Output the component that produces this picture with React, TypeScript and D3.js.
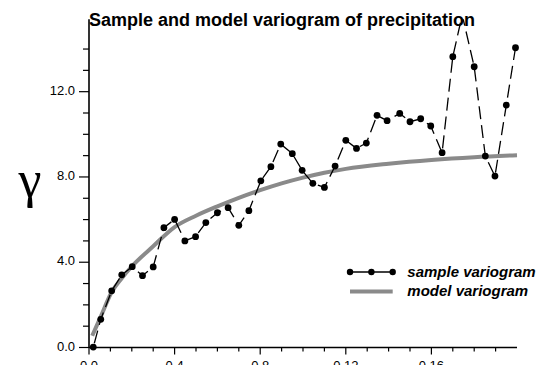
import React from "react";
import * as d3 from "d3";

// Experimental variogram: lag distance and semivariance
const lagX = [
  0.002, 0.0055, 0.0106, 0.0153, 0.0202, 0.025, 0.03, 0.035, 0.04, 0.0448,
  0.0498, 0.0546, 0.06, 0.065, 0.07, 0.0747, 0.0803, 0.085, 0.0896, 0.095,
  0.0996, 0.1046, 0.11, 0.115, 0.12, 0.125, 0.1296, 0.1346, 0.1393, 0.1452,
  0.15, 0.155, 0.1597, 0.165, 0.17, 0.1744, 0.18, 0.1852, 0.1897, 0.195,
  0.1993,
];
const gammaY = [
  0.02, 1.32, 2.66, 3.41, 3.79, 3.37, 3.78, 5.62, 6.01, 5.0, 5.2, 5.86, 6.32,
  6.56, 5.73, 6.42, 7.82, 8.48, 9.54, 9.09, 8.31, 7.7, 7.51, 8.51, 9.72, 9.34,
  9.59, 10.89, 10.64, 10.98, 10.59, 10.73, 10.39, 9.14, 13.64, 15.6, 13.17,
  8.98, 8.04, 11.37, 14.06,
];

// Fitted model variogram
const modelLag = [
  0.0015, 0.0055, 0.0106, 0.0153, 0.02, 0.03, 0.04, 0.05, 0.06, 0.07, 0.08,
  0.09, 0.1, 0.11, 0.12, 0.14, 0.16, 0.18, 0.2,
];
const modelGamma = [
  0.55, 1.45, 2.6, 3.25, 3.8, 4.75, 5.65, 6.18, 6.62, 7.02, 7.38, 7.7, 7.97,
  8.2, 8.38, 8.62, 8.8, 8.93, 9.02,
];

const xTickLabels = ["0.0", "0.4", "0.8", "0.12", "0.16"];
const xMajorValues = [0, 0.04, 0.08, 0.12, 0.16];
const yTickLabels = ["0.0", "4.0", "8.0", "12.0"];
const yMajorValues = [0, 4, 8, 12];

const W = 545;
const H = 365;
const FONT = "'Liberation Sans', Arial, Helvetica, sans-serif";

export default function App() {
  const x = d3.scaleLinear().domain([0, 0.2]).range([89, 517]);
  const y = d3.scaleLinear().domain([0, 15.4]).range([347.5, 19.2]);

  const xMinor = d3.range(0, 20).map((i) => i / 100);
  const yMinor = d3.range(0, 15);

  const sample = lagX.map((h, i) => [h, gammaY[i]] as [number, number]);
  const model = modelLag.map((h, i) => [h, modelGamma[i]] as [number, number]);

  const sampleLine = d3
    .line<[number, number]>()
    .x((d) => x(d[0]))
    .y((d) => y(d[1]));
  const modelLine = d3
    .line<[number, number]>()
    .x((d) => x(d[0]))
    .y((d) => y(d[1]))
    .curve(d3.curveMonotoneX);

  const x0 = x(0);
  const y0 = y(0);

  return (
    <svg
      width={W}
      height={H}
      style={{ position: "absolute", left: 0, top: 0, background: "#fff" }}
    >
      <defs>
        <clipPath id="plot-clip">
          <rect x={0} y={y(15.4)} width={W} height={H} />
        </clipPath>
      </defs>

      {/* title */}
      <text x={89} y={26} fontFamily={FONT} fontWeight="bold" fontSize={18} fill="#000">
        Sample and model variogram of precipitation
      </text>

      {/* y-axis symbol */}
      <text
        x={30}
        y={197}
        textAnchor="middle"
        fontFamily="'Liberation Serif', 'Times New Roman', serif"
        fontSize={52}
        fill="#000"
      >
        γ
      </text>

      {/* model curve */}
      <path
        d={modelLine(model) || ""}
        fill="none"
        stroke="#8a8a8a"
        strokeWidth={4}
        clipPath="url(#plot-clip)"
      />

      {/* sample variogram */}
      <g clipPath="url(#plot-clip)">
        <path
          d={sampleLine(sample) || ""}
          fill="none"
          stroke="#000"
          strokeWidth={1.3}
          strokeDasharray="13,6"
          strokeDashoffset={-4}
        />
        {sample.map((d, i) => (
          <circle key={i} cx={x(d[0])} cy={y(d[1])} r={3.4} fill="#000" />
        ))}
      </g>

      {/* axes */}
      <g stroke="#000" strokeWidth={1.6} fill="none">
        <line x1={x0} y1={y0} x2={x(0.2)} y2={y0} />
        <line x1={x0} y1={y0} x2={x0} y2={y(15.4)} />
      </g>
      <g stroke="#000" strokeWidth={1.2}>
        {xMinor.map((v) => {
          const major = xMajorValues.some((m) => Math.abs(m - v) < 1e-9);
          return (
            <line key={"xt" + v} x1={x(v)} x2={x(v)} y1={y0} y2={y0 + (major ? 7 : 4)} />
          );
        })}
        {yMinor.map((v) => {
          const major = yMajorValues.includes(v);
          return (
            <line key={"yt" + v} x1={x0 - (major ? 10 : 6)} x2={x0} y1={y(v)} y2={y(v)} />
          );
        })}
      </g>
      <g fontFamily={FONT} fontSize={13} fill="#000">
        {xMajorValues.map((v, i) => (
          <text key={"xl" + i} x={x(v)} y={370} textAnchor="middle">
            {xTickLabels[i]}
          </text>
        ))}
        {yMajorValues.map((v, i) => (
          <text key={"yl" + i} x={75} y={y(v) + 3} textAnchor="end">
            {yTickLabels[i]}
          </text>
        ))}
      </g>

      {/* legend */}
      <g>
        <line x1={350} x2={392.7} y1={272} y2={272} stroke="#000" strokeWidth={1.5} />
        {[350, 371.4, 392.7].map((cx) => (
          <circle key={cx} cx={cx} cy={272} r={3.2} fill="#000" />
        ))}
        <line x1={350} x2={392.7} y1={291.5} y2={291.5} stroke="#8a8a8a" strokeWidth={4} />
        <g fontFamily={FONT} fontWeight="bold" fontStyle="italic" fontSize={15} fill="#000">
          <text x={407.3} y={276.5}>sample variogram</text>
          <text x={407.3} y={296}>model variogram</text>
        </g>
      </g>
    </svg>
  );
}
